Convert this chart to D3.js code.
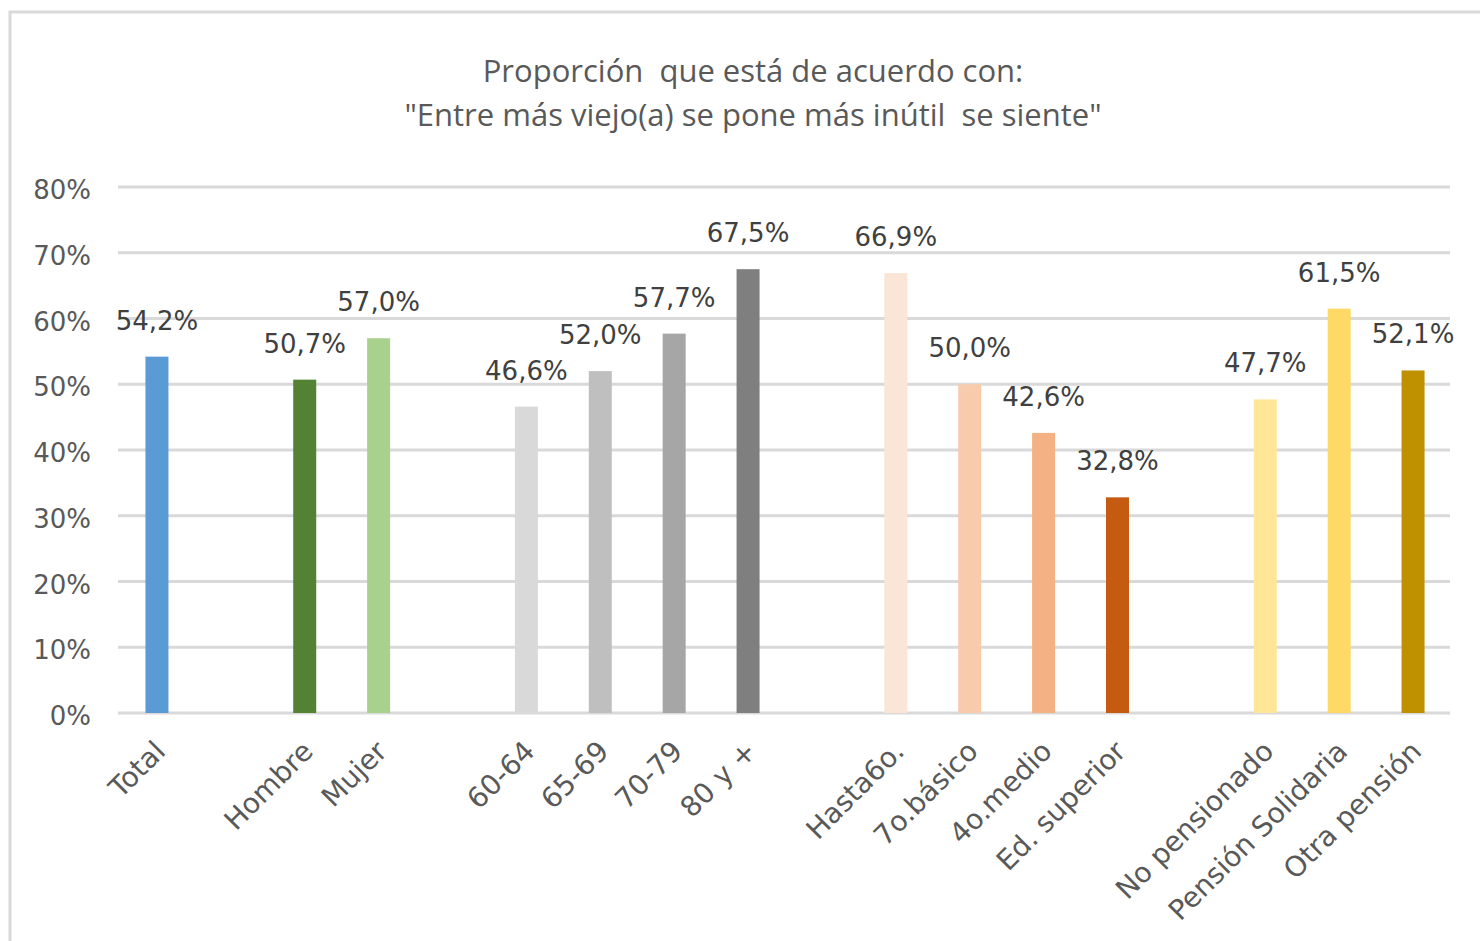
<!doctype html>
<html lang="es">
<head>
<meta charset="utf-8">
<title>Proporción que está de acuerdo</title>
<script src="https://d3js.org/d3.v7.min.js"></script>
<style>
  body { margin: 0; background: #fff; }
  svg text { fill: #595959; }
</style>
</head>
<body>
<div id="chart"></div>
<script>
// categories ("" = empty slot between groups)
var categories = ["Total", "", "Hombre", "Mujer", "", "60-64", "65-69", "70-79", "80 y +", "",
  "Hasta6o.", "7o.básico", "4o.medio", "Ed. superior", "", "No pensionado", "Pensión Solidaria", "Otra pensión"];
var values = [54.2, null, 50.7, 57.0, null, 46.6, 52.0, 57.7, 67.5, null,
  66.9, 50.0, 42.6, 32.8, null, 47.7, 61.5, 52.1];
var colors = ["#5b9bd5", null, "#548235", "#a9d18e", null, "#d9d9d9", "#bfbfbf", "#a6a6a6", "#7f7f7f", null,
  "#fbe5d6", "#f8cbad", "#f4b183", "#c55a11", null, "#ffe699", "#ffd966", "#bf9000"];
var yTicks = [0, 10, 20, 30, 40, 50, 60, 70, 80];
var titleLines = ["Proporción  que está de acuerdo con:", "\"Entre más viejo(a) se pone más inútil  se siente\""];

var width = 1480, height = 941;
var svg = d3.select("#chart").append("svg")
  .attr("width", width).attr("height", height);

// chart frame
svg.append("rect")
  .attr("x", 10).attr("y", 12)
  .attr("width", 1500).attr("height", 1000)
  .attr("fill", "none").attr("stroke", "#d9d9d9").attr("stroke-width", 3);

var x = d3.scaleBand().domain(d3.range(categories.length)).range([120, 1450]).paddingInner(0).paddingOuter(0);
var y = d3.scaleLinear().domain([0, 80]).range([713, 187]);

// gridlines
svg.append("g").selectAll("line")
  .data(yTicks)
  .enter().append("line")
  .attr("x1", 118).attr("x2", 1450)
  .attr("y1", function(d) { return y(d); })
  .attr("y2", function(d) { return y(d); })
  .attr("stroke", "#d9d9d9").attr("stroke-width", 3);

// y tick labels
svg.append("g").selectAll("text")
  .data(yTicks)
  .enter().append("text")
  .attr("x", 91)
  .attr("y", function(d) { return y(d) + 12; })
  .attr("text-anchor", "end")
  .style("font-family", "DejaVu Sans")
  .style("font-size", "26px")
  .text(function(d) { return d + "%"; });

var barW = 23;
var idx = d3.range(categories.length).filter(function(i) { return values[i] != null; });

svg.append("g").selectAll("rect")
  .data(idx)
  .enter().append("rect")
  .attr("x", function(i) { return x(i) + x.bandwidth() / 2 - barW / 2; })
  .attr("width", barW)
  .attr("y", function(i) { return y(values[i]); })
  .attr("height", function(i) { return y(0) - y(values[i]); })
  .attr("fill", function(i) { return colors[i]; });

// data labels
svg.append("g").selectAll("text")
  .data(idx)
  .enter().append("text")
  .attr("x", function(i) { return x(i) + x.bandwidth() / 2; })
  .attr("y", function(i) { return y(values[i]) - 27; })
  .attr("text-anchor", "middle")
  .style("font-family", "DejaVu Sans")
  .style("font-size", "26px")
  .style("fill", "#404040")
  .text(function(i) { return values[i].toFixed(1).replace(".", ",") + "%"; });

// category labels
svg.append("g").selectAll("text")
  .data(idx)
  .enter().append("text")
  .attr("transform", function(i) {
    return "translate(" + (x(i) + x.bandwidth() / 2 + 10) + "," + 753 + ") rotate(-45)";
  })
  .attr("text-anchor", "end")
  .style("font-family", "DejaVu Sans")
  .style("font-size", "28px")
  .text(function(i) { return categories[i]; });

// title
svg.append("g").selectAll("text")
  .data(titleLines)
  .enter().append("text")
  .attr("x", 753)
  .attr("y", function(d, i) { return 82 + i * 44; })
  .attr("text-anchor", "middle")
  .style("font-family", "Open Sans")
  .style("font-size", "31px")
  .style("white-space", "pre")
  .text(function(d) { return d; });
</script>
</body>
</html>
